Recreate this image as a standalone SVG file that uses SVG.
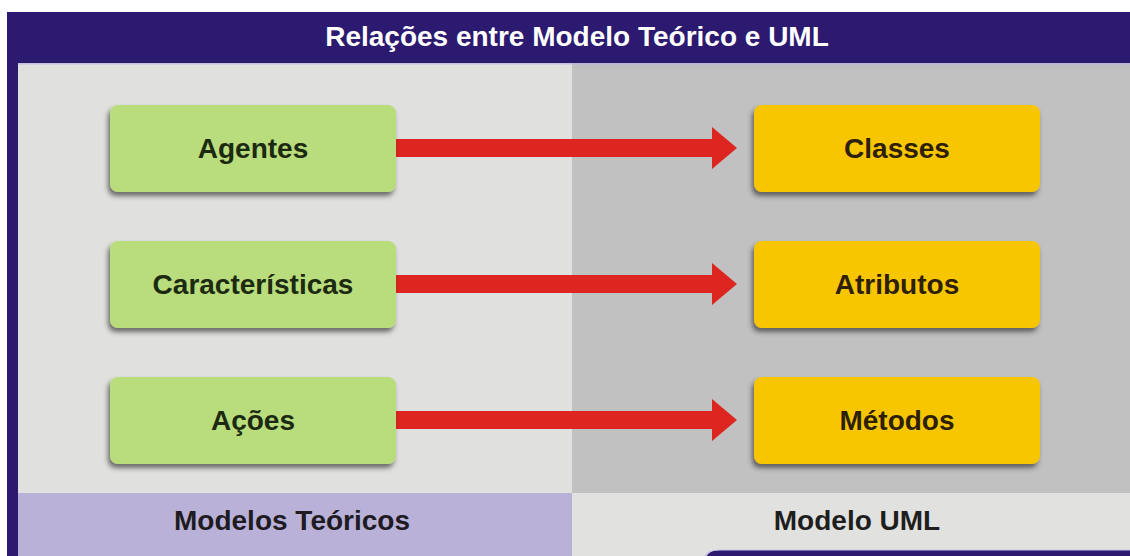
<svg xmlns="http://www.w3.org/2000/svg" width="1130" height="556" viewBox="0 0 1130 556">
  <defs>
    <style>
      .lbl { font-family: "Liberation Sans", Arial, sans-serif; font-weight: bold; font-size: 28px; text-anchor: middle; }
      .green { fill: #b9dc7d; }
      .yellow { fill: #f7c600; }
      .gtxt { fill: #1c2a12; }
      .ytxt { fill: #2e1f05; }
      .arrow { fill: #dc261f; }
    </style>
    <filter id="sh" x="-10%" y="-20%" width="120%" height="150%">
      <feDropShadow dx="-2" dy="4" stdDeviation="2.5" flood-color="#2a2a2a" flood-opacity="0.65"/>
    </filter>
  </defs>

  <rect x="0" y="0" width="1130" height="556" fill="#ffffff"/>
  <!-- frame / header -->
  <rect x="7" y="12" width="1123" height="544" fill="#2b1a6f"/>
  <rect x="18" y="63" width="554" height="430" fill="#e0e0de"/>
  <rect x="572" y="63" width="558" height="430" fill="#c1c1c1"/>
  <rect x="18" y="63" width="1112" height="1.5" fill="#b8b0dc" opacity="0.7"/>
  <rect x="18" y="493" width="554" height="63" fill="#bab1d8"/>
  <rect x="572" y="493" width="558" height="63" fill="#e1e1df"/>
  <path d="M705,556 V560 Q707,550 720,550 H1130 V556 Z" fill="#2b1a6f"/>
  <path d="M705,556 Q707,550 720,550 H1130" fill="none" stroke="#c8c4e8" stroke-width="1.2"/>

  <text class="lbl" x="577" y="46" fill="#ffffff">Relações entre Modelo Teórico e UML</text>

  <!-- connectors -->
  <g id="connectors">
    <path class="arrow" d="M396,139 H712 V127 L737,148 L712,169 V157 H396 Z"/>
    <path class="arrow" d="M396,275 H712 V263 L737,284 L712,305 V293 H396 Z"/>
    <path class="arrow" d="M396,411 H712 V399 L737,420 L712,441 V429 H396 Z"/>
  </g>

  <g id="agentes">
    <rect class="green" x="110" y="105" width="286" height="87" rx="8" filter="url(#sh)"/>
    <text class="lbl gtxt" x="253" y="158">Agentes</text>
  </g>
  <g id="caracteristicas">
    <rect class="green" x="110" y="241" width="286" height="87" rx="8" filter="url(#sh)"/>
    <text class="lbl gtxt" x="253" y="294">Características</text>
  </g>
  <g id="acoes">
    <rect class="green" x="110" y="377" width="286" height="87" rx="8" filter="url(#sh)"/>
    <text class="lbl gtxt" x="253" y="430">Ações</text>
  </g>

  <g id="classes">
    <rect class="yellow" x="754" y="105" width="286" height="87" rx="8" filter="url(#sh)"/>
    <text class="lbl ytxt" x="897" y="158">Classes</text>
  </g>
  <g id="atributos">
    <rect class="yellow" x="754" y="241" width="286" height="87" rx="8" filter="url(#sh)"/>
    <text class="lbl ytxt" x="897" y="294">Atributos</text>
  </g>
  <g id="metodos">
    <rect class="yellow" x="754" y="377" width="286" height="87" rx="8" filter="url(#sh)"/>
    <text class="lbl ytxt" x="897" y="430">Métodos</text>
  </g>

  <g id="modelos-teoricos">
    <text class="lbl" x="292" y="530" fill="#1e1b22">Modelos Teóricos</text>
  </g>
  <g id="modelo-uml">
    <text class="lbl" x="857" y="530" fill="#1e1e1e">Modelo UML</text>
  </g>
</svg>
